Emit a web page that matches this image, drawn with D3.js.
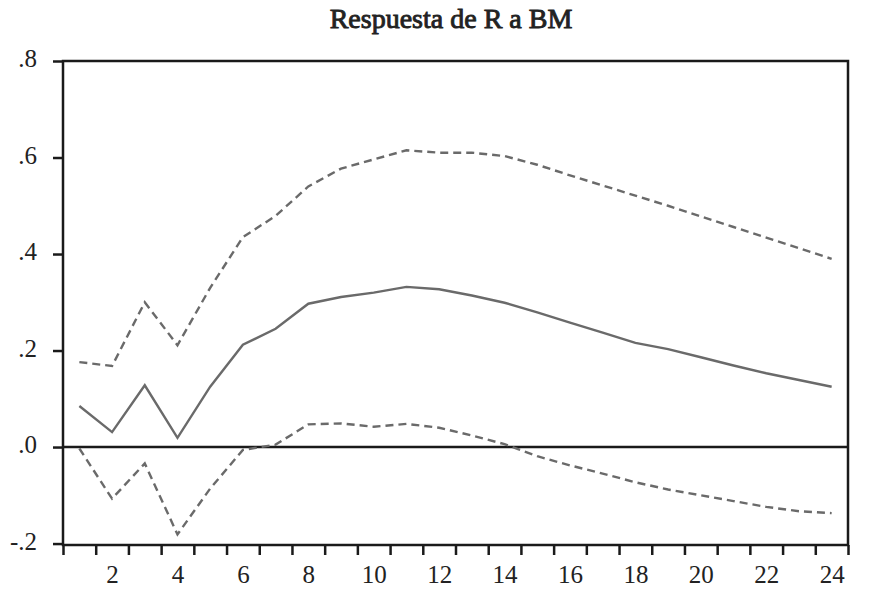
<!DOCTYPE html>
<html>
<head>
<meta charset="utf-8">
<script src="https://cdn.jsdelivr.net/npm/d3@7"></script>
<style>
  body { margin: 0; background: #fff; }
  svg text { font-family: "Liberation Serif", "Times New Roman", serif; fill: #222; }
</style>
</head>
<body>
<svg id="chart" width="875" height="595"></svg>
<script>
// periodos y respuesta de R a un shock en BM (con bandas)
var periods = [1,2,3,4,5,6,7,8,9,10,11,12,13,14,15,16,17,18,19,20,21,22,23,24];
var resp  = [0.085, 0.031, 0.128, 0.019, 0.125, 0.212, 0.245, 0.297, 0.311, 0.320, 0.332, 0.327,
             0.314, 0.299, 0.279, 0.258, 0.237, 0.216, 0.203, 0.186, 0.169, 0.153, 0.139, 0.125];
var upper = [0.176, 0.168, 0.300, 0.211, 0.330, 0.435, 0.479, 0.540, 0.577, 0.596, 0.615, 0.610,
             0.610, 0.603, 0.585, 0.563, 0.542, 0.521, 0.500, 0.478, 0.456, 0.434, 0.412, 0.390];
var lower = [-0.003, -0.107, -0.034, -0.181, -0.086, -0.006, 0.005, 0.047, 0.049, 0.042, 0.048, 0.040,
             0.024, 0.006, -0.019, -0.038, -0.055, -0.073, -0.088, -0.100, -0.112, -0.124, -0.133, -0.137];
var yTicks = [-0.2, 0, 0.2, 0.4, 0.6, 0.8];
var xLabels = [2,4,6,8,10,12,14,16,18,20,22,24];
var title = "Respuesta de R a BM";

var svg = d3.select("#chart");
// plot box (note: "top" is a reserved window global, so use pTop etc)
var pLeft = 63, pRight = 848, pTop = 61, pBottom = 545;

var x = d3.scaleLinear().domain([0.5, 24.5]).range([pLeft, pRight]);
var y = d3.scaleLinear().domain([-0.203, 0.8]).range([pBottom, pTop]);

// tick format like ".8" / "-.2" with a plain hyphen
var loc = d3.formatLocale({decimal: ".", thousands: ",", grouping: [3], currency: ["", ""], minus: "-"});
function fmt(d) {
  return loc.format(".1f")(d).replace("0.", ".");
}

// title (regular face, thickened a bit with a stroke)
svg.append("text")
  .attr("x", 451)
  .attr("y", 28)
  .attr("text-anchor", "middle")
  .attr("font-size", 28)
  .attr("stroke", "#222")
  .attr("stroke-width", 0.9)
  .text(title);

// zero line
svg.append("line")
  .attr("x1", pLeft).attr("x2", pRight)
  .attr("y1", y(0)).attr("y2", y(0))
  .attr("stroke", "#1a1a1a").attr("stroke-width", 2.5);

var line = d3.line()
  .x(function(d, i) { return x(periods[i]); })
  .y(function(d) { return y(d); });

svg.append("path").datum(upper)
  .attr("d", line).attr("fill", "none")
  .attr("stroke", "#6a6a6a").attr("stroke-width", 2.4)
  .attr("stroke-dasharray", "8,5");

svg.append("path").datum(lower)
  .attr("d", line).attr("fill", "none")
  .attr("stroke", "#6a6a6a").attr("stroke-width", 2.4)
  .attr("stroke-dasharray", "8,5");

svg.append("path").datum(resp)
  .attr("d", line).attr("fill", "none")
  .attr("stroke", "#6a6a6a").attr("stroke-width", 2.4);

// x axis: ticks between periods, labels centred on even periods
var xTickVals = d3.range(0, 25).map(function(i) { return i + 0.5; });
var gx = svg.append("g").attr("transform", "translate(0," + pBottom + ")")
  .call(d3.axisBottom(x).tickValues(xTickVals).tickSize(10).tickFormat(""));
gx.selectAll("path").remove();
gx.selectAll("line").attr("stroke", "#1a1a1a").attr("stroke-width", 2.5);

var gxl = svg.append("g").attr("transform", "translate(0," + pBottom + ")")
  .call(d3.axisBottom(x).tickValues(xLabels).tickSize(0).tickPadding(20).tickFormat(d3.format("d")));
gxl.select(".domain").remove();
gxl.selectAll("text").attr("font-size", 25).attr("font-family", null).attr("fill", "#222");

// y axis
var gy = svg.append("g").attr("transform", "translate(" + pLeft + ",0)")
  .call(d3.axisLeft(y).tickValues(yTicks).tickSize(10).tickPadding(16).tickFormat(fmt));
gy.select(".domain").remove();
gy.selectAll("line").attr("stroke", "#1a1a1a").attr("stroke-width", 2.5);
gy.selectAll("text").attr("font-size", 25).attr("font-family", null).attr("fill", "#222").attr("dy", "0.22em");

// frame
svg.append("rect")
  .attr("x", pLeft).attr("y", pTop)
  .attr("width", pRight - pLeft).attr("height", pBottom - pTop)
  .attr("fill", "none").attr("stroke", "#1a1a1a").attr("stroke-width", 2.5);
</script>
</body>
</html>
